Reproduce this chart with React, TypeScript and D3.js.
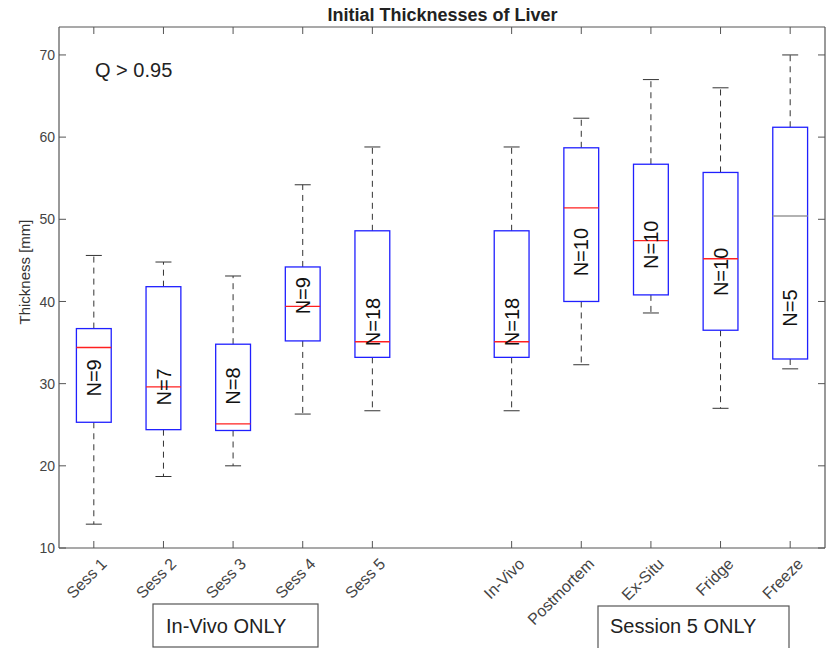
import React from "react";
import * as d3 from "d3";

const categories = ["Sess 1", "Sess 2", "Sess 3", "Sess 4", "Sess 5", "In-Vivo", "Postmortem", "Ex-Situ", "Fridge", "Freeze"];
const slotIndex = [1, 2, 3, 4, 5, 7, 8, 9, 10, 11];
const whiskerLow = [12.9, 18.7, 20.0, 26.3, 26.7, 26.7, 32.3, 38.6, 27.0, 31.8];
const q1 = [25.3, 24.4, 24.3, 35.2, 33.2, 33.2, 40.0, 40.8, 36.5, 33.0];
const median = [34.4, 29.6, 25.1, 39.4, 35.1, 35.1, 51.4, 47.4, 45.2, 50.4];
const q3 = [36.7, 41.8, 34.8, 44.2, 48.6, 48.6, 58.7, 56.7, 55.7, 61.2];
const whiskerHigh = [45.6, 44.8, 43.1, 54.2, 58.8, 58.8, 62.3, 67.0, 66.0, 70.0];
const counts = [9, 7, 8, 9, 18, 18, 10, 10, 10, 5];
const labelAt = [30.7, 29.6, 29.7, 40.7, 37.5, 37.5, 46.0, 46.9, 43.6, 39.2];
const yTicks = [10, 20, 30, 40, 50, 60, 70];

const W = 827, H = 648;
const left = 59, right = 825, top = 27, bottom = 548;
const FONT = "Liberation Sans, Arial, Helvetica, sans-serif";

export default function App() {
  const x = d3.scaleLinear().domain([0.5, 11.5]).range([left, right]);
  const y = d3.scaleLinear().domain([10, 73.4]).range([bottom, top]);
  const boxHalf = x(1.25) - x(1);
  const capHalf = 8;
  const axisColor = "#555";
  const tickLen = 7;

  return (
    <svg width={W} height={H} style={{ position: "absolute", left: 0, top: 0, background: "#fff" }} fontFamily={FONT}>
      <rect x={0} y={0} width={W} height={H} fill="#fff" />
      <text x={(325 + 560) / 2} y={21} textAnchor="middle" fontWeight="bold" fontSize={18} fill="#222">
        Initial Thicknesses of Liver
      </text>

      {categories.map((c, i) => {
        const cx = x(slotIndex[i]);
        const medColor = i === 9 ? "#999" : "#ff2020";
        return (
          <g key={c}>
            <line x1={cx} x2={cx} y1={y(q3[i])} y2={y(whiskerHigh[i])} stroke="#333" strokeWidth={1} strokeDasharray="6,5" />
            <line x1={cx} x2={cx} y1={y(q1[i])} y2={y(whiskerLow[i])} stroke="#333" strokeWidth={1} strokeDasharray="6,5" />
            <line x1={cx - capHalf} x2={cx + capHalf} y1={y(whiskerHigh[i])} y2={y(whiskerHigh[i])} stroke="#333" strokeWidth={1} />
            <line x1={cx - capHalf} x2={cx + capHalf} y1={y(whiskerLow[i])} y2={y(whiskerLow[i])} stroke="#333" strokeWidth={1} />
            <rect x={cx - boxHalf} y={y(q3[i])} width={2 * boxHalf} height={y(q1[i]) - y(q3[i])} fill="none" stroke="#2020ff" strokeWidth={1.3} />
            <line x1={cx - boxHalf} x2={cx + boxHalf} y1={y(median[i])} y2={y(median[i])} stroke={medColor} strokeWidth={1.3} />
            <text transform={`translate(${cx},${y(labelAt[i])}) rotate(-90)`} textAnchor="middle" dy="0.36em" fontSize={20} fill="#111">
              {`N=${counts[i]}`}
            </text>
          </g>
        );
      })}

      <line x1={left} x2={right} y1={top} y2={top} stroke={axisColor} strokeWidth={1.2} />
      <line x1={left} x2={right} y1={bottom} y2={bottom} stroke={axisColor} strokeWidth={1.2} />
      <line x1={left} x2={left} y1={top} y2={bottom} stroke={axisColor} strokeWidth={1.2} />
      <line x1={right} x2={right} y1={top} y2={bottom} stroke={axisColor} strokeWidth={1.2} />

      {yTicks.map((t) => (
        <g key={t}>
          <line x1={left} x2={left + tickLen} y1={y(t)} y2={y(t)} stroke={axisColor} />
          <line x1={right} x2={right - tickLen} y1={y(t)} y2={y(t)} stroke={axisColor} />
          <text x={left - 4} y={y(t)} dy="0.36em" textAnchor="end" fontSize={14} fill="#444">{t}</text>
        </g>
      ))}

      {categories.map((c, i) => {
        const cx = x(slotIndex[i]);
        return (
          <g key={"t" + c}>
            <line x1={cx} x2={cx} y1={bottom} y2={bottom - tickLen} stroke={axisColor} />
            <line x1={cx} x2={cx} y1={top} y2={top + tickLen} stroke={axisColor} />
            <text transform={`translate(${cx + 6},${bottom + 9}) rotate(-45)`} textAnchor="end" dy="0.7em" fontSize={16} fill="#444">
              {c}
            </text>
          </g>
        );
      })}

      <text transform={`translate(30,272) rotate(-90)`} textAnchor="middle" fontSize={15} fill="#333">Thickness [mm]</text>

      <text x={95} y={77} fontSize={20} fill="#222">Q &gt; 0.95</text>

      <rect x={153} y={604} width={165} height={43} fill="#fff" stroke="#555" strokeWidth={1.2} />
      <text x={166} y={633} fontSize={20} fill="#222">In-Vivo ONLY</text>
      <rect x={598} y={606} width={191} height={43} fill="#fff" stroke="#555" strokeWidth={1.2} />
      <text x={610} y={633} fontSize={20} fill="#222">Session 5 ONLY</text>
    </svg>
  );
}
